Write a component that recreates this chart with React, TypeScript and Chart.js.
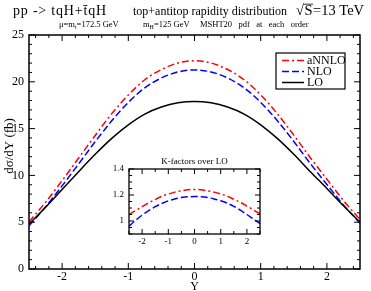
import React, { useEffect, useRef } from 'react';
import { Chart, registerables } from 'chart.js';

Chart.register(...registerables);

// ---------- data ----------
const rapidity = [-2.5, -2.25, -2, -1.75, -1.5, -1.25, -1, -0.75, -0.5, -0.25, 0, 0.25, 0.5, 0.75, 1, 1.25, 1.5, 1.75, 2, 2.25, 2.5];
const loValues = [4.8, 6.6, 8.5, 10.4, 12.25, 13.95, 15.4, 16.55, 17.3, 17.75, 17.9, 17.75, 17.3, 16.55, 15.4, 13.95, 12.25, 10.4, 8.6, 6.75, 5.0];
const nloValues = [4.61, 6.63, 8.88, 11.23, 13.6, 15.83, 17.79, 19.36, 20.41, 21.05, 21.27, 21.05, 20.41, 19.36, 17.8, 15.86, 13.63, 11.26, 9.03, 6.85, 4.9];
const annloValues = [5.04, 7.13, 9.44, 11.86, 14.27, 16.6, 18.59, 20.22, 21.31, 22.01, 22.25, 22.01, 21.31, 20.22, 18.6, 16.6, 14.3, 11.89, 9.59, 7.32, 5.28];
const kNloValues = [0.96, 1.005, 1.045, 1.08, 1.11, 1.135, 1.155, 1.17, 1.18, 1.186, 1.188, 1.186, 1.18, 1.17, 1.156, 1.137, 1.113, 1.083, 1.05, 1.015, 0.98];
const kAnnloValues = [1.05, 1.08, 1.11, 1.14, 1.165, 1.19, 1.207, 1.222, 1.232, 1.24, 1.243, 1.24, 1.232, 1.222, 1.208, 1.19, 1.167, 1.143, 1.115, 1.085, 1.055];

const mainXTicks = [-2, -1, 0, 1, 2];
const mainYTicks = [0, 5, 10, 15, 20, 25];
const insetXTicks = [-2, -1, 0, 1, 2];
const insetYTicks = [1, 1.2, 1.4];
const seriesNames = ['aNNLO', 'NLO', 'LO'];
const seriesColors = ['#ff0000', '#0000ff', '#000000'];
const seriesDashes: number[][] = [[7, 3, 2, 3], [7, 3], []];

const FONT = "'Liberation Serif', 'Times New Roman', serif";

type FrameCfg = {
  xMinor: number; xMajor: number; yMinor: number; yMajor: number;
  majorLen: number; minorLen: number; lw: number;
};

function tickValues(min: number, max: number, step: number) {
  const out: number[] = [];
  const start = Math.ceil(min / step - 1e-9);
  const end = Math.floor(max / step + 1e-9);
  for (let i = start; i <= end; i++) out.push(+(i * step).toFixed(6));
  return out;
}

function isMajor(v: number, major: number) {
  const r = v / major;
  return Math.abs(r - Math.round(r)) < 1e-6;
}

function framePlugin(cfg: FrameCfg) {
  return {
    id: 'frame',
    afterDraw(chart: any) {
      const { ctx, chartArea: a, scales } = chart;
      const xs = scales.x;
      const ys = scales.y;
      ctx.save();
      ctx.strokeStyle = '#000';
      ctx.lineWidth = 1;
      ctx.beginPath();
      for (const v of tickValues(xs.min, xs.max, cfg.xMinor)) {
        const p = xs.getPixelForValue(v);
        const len = isMajor(v, cfg.xMajor) ? cfg.majorLen : cfg.minorLen;
        ctx.moveTo(p, a.bottom); ctx.lineTo(p, a.bottom - len);
        ctx.moveTo(p, a.top); ctx.lineTo(p, a.top + len);
      }
      for (const v of tickValues(ys.min, ys.max, cfg.yMinor)) {
        const p = ys.getPixelForValue(v);
        const len = isMajor(v, cfg.yMajor) ? cfg.majorLen : cfg.minorLen;
        ctx.moveTo(a.left, p); ctx.lineTo(a.left + len, p);
        ctx.moveTo(a.right, p); ctx.lineTo(a.right - len, p);
      }
      ctx.stroke();
      ctx.lineWidth = cfg.lw;
      ctx.strokeRect(a.left, a.top, a.right - a.left, a.bottom - a.top);
      ctx.restore();
    },
  };
}

// sequential text runs, with optional subscripts
function drawRuns(ctx: any, parts: [string, boolean][], x: number, y: number, size: number) {
  let cx = x;
  for (const [t, sub] of parts) {
    ctx.font = `${sub ? size * 0.7 : size}px ${FONT}`;
    ctx.fillText(t, cx, sub ? y + size * 0.25 : y);
    cx += ctx.measureText(t).width;
  }
  return cx;
}

const mainDecor = {
  id: 'mainDecor',
  afterDraw(chart: any) {
    const { ctx, chartArea: a } = chart;
    ctx.save();
    ctx.fillStyle = '#000';
    ctx.strokeStyle = '#000';
    ctx.textAlign = 'left';
    ctx.textBaseline = 'alphabetic';
    // title
    ctx.font = `14px ${FONT}`;
    ctx.letterSpacing = '0.8px';
    ctx.fillText('pp -> tqH+t\u0304qH', 13, 15);
    ctx.letterSpacing = '0px';
    ctx.font = `12px ${FONT}`;
    ctx.fillText('top+antitop rapidity distribution', 133, 15);
    // sqrt(S) = 13 TeV with overline on S
    ctx.font = `14.5px ${FONT}`;
    let x0 = 296;
    ctx.fillText('\u221A', x0, 15);
    x0 += ctx.measureText('\u221A').width;
    const wS = ctx.measureText('S').width;
    ctx.fillText('S', x0 + 0.5, 15);
    ctx.lineWidth = 0.8;
    ctx.beginPath();
    ctx.moveTo(x0 - 0.5, 4.2);
    ctx.lineTo(x0 + wS + 1, 4.2);
    ctx.stroke();
    ctx.fillText('=13 TeV', x0 + wS + 1, 15);
    // subtitle
    drawRuns(ctx, [['\u03BC=m', false], ['t', true], ['=172.5 GeV', false]], 59, 27, 8.5);
    drawRuns(ctx, [['m', false], ['H', true], ['=125 GeV', false]], 143, 27, 8.5);
    drawRuns(ctx, [['MSHT20   pdf   at   each   order', false]], 200, 27, 8.5);
    // axis titles
    ctx.font = `12px ${FONT}`;
    ctx.textAlign = 'center';
    ctx.fillText('Y', (a.left + a.right) / 2, 290);
    ctx.save();
    ctx.translate(13, 146);
    ctx.rotate(-Math.PI / 2);
    ctx.font = `13px ${FONT}`;
    ctx.fillText('d\u03C3/dY (fb)', 0, 0);
    ctx.restore();
    // legend
    const bx = 276, by = 53, bw = 69, bh = 36;
    ctx.fillStyle = '#fff';
    ctx.fillRect(bx, by, bw, bh);
    ctx.lineWidth = 1.2;
    ctx.strokeRect(bx, by, bw, bh);
    ctx.textAlign = 'left';
    ctx.textBaseline = 'middle';
    ctx.font = `12px ${FONT}`;
    seriesNames.forEach((name, i) => {
      const y = by + 7.5 + i * 11;
      ctx.beginPath();
      ctx.setLineDash(seriesDashes[i]);
      ctx.strokeStyle = seriesColors[i];
      ctx.lineWidth = 1.5;
      ctx.moveTo(282, y);
      ctx.lineTo(304, y);
      ctx.stroke();
      ctx.setLineDash([]);
      ctx.fillStyle = '#000';
      ctx.fillText(name, 307, y + 0.5);
    });
    ctx.restore();
  },
};

const insetDecor = {
  id: 'insetDecor',
  afterDraw(chart: any) {
    const { ctx, chartArea: a } = chart;
    ctx.save();
    ctx.fillStyle = '#000';
    ctx.font = `9px ${FONT}`;
    ctx.textAlign = 'center';
    ctx.textBaseline = 'alphabetic';
    ctx.fillText('K-factors over LO', (a.left + a.right) / 2, 14);
    ctx.restore();
  },
};

function lineDataset(label: string, values: number[], idx: number) {
  return {
    label,
    data: rapidity.map((x, i) => ({ x, y: values[i] })),
    borderColor: seriesColors[idx],
    borderDash: seriesDashes[idx],
    borderWidth: 1.5,
    pointRadius: 0,
    fill: false,
    cubicInterpolationMode: 'monotone' as const,
  };
}

export default function App() {
  const mainRef = useRef<HTMLCanvasElement>(null);
  const insetRef = useRef<HTMLCanvasElement>(null);

  useEffect(() => {
    Chart.defaults.font.family = FONT;
    Chart.defaults.color = '#000';

    const main = new Chart(mainRef.current!, {
      type: 'line',
      data: {
        datasets: [
          lineDataset('LO', loValues, 2),
          lineDataset('NLO', nloValues, 1),
          lineDataset('aNNLO', annloValues, 0),
        ],
      },
      options: {
        responsive: false,
        animation: false,
        layout: { padding: { top: 35, right: 11, left: 0, bottom: 0 } },
        plugins: { legend: { display: false }, tooltip: { enabled: false }, title: { display: false } },
        scales: {
          x: {
            type: 'linear', min: -2.5, max: 2.5,
            grid: { display: false, drawTicks: false, tickLength: 0 },
            border: { display: false },
            ticks: { font: { size: 12 }, padding: 1, maxRotation: 0 },
            afterBuildTicks: (s: any) => { s.ticks = mainXTicks.map((v) => ({ value: v })); },
            afterFit: (s: any) => { s.height = 22; },
          },
          y: {
            type: 'linear', min: 0, max: 25,
            grid: { display: false, drawTicks: false, tickLength: 0 },
            border: { display: false },
            ticks: { font: { size: 12 }, padding: 5 },
            afterBuildTicks: (s: any) => { s.ticks = mainYTicks.map((v) => ({ value: v })); },
            afterFit: (s: any) => { s.width = 29; },
          },
        },
      },
      plugins: [framePlugin({ xMinor: 0.2, xMajor: 1, yMinor: 1, yMajor: 5, majorLen: 6, minorLen: 3, lw: 1.5 }), mainDecor],
    } as any);

    const inset = new Chart(insetRef.current!, {
      type: 'line',
      data: {
        datasets: [
          lineDataset('NLO', kNloValues, 1),
          lineDataset('aNNLO', kAnnloValues, 0),
        ],
      },
      options: {
        responsive: false,
        animation: false,
        layout: { padding: { top: 19, right: 10, left: 0, bottom: 0 } },
        plugins: { legend: { display: false }, tooltip: { enabled: false }, title: { display: false } },
        scales: {
          x: {
            type: 'linear', min: -2.5, max: 2.5,
            grid: { display: false, drawTicks: false, tickLength: 0 },
            border: { display: false },
            ticks: { font: { size: 9 }, padding: 2, maxRotation: 0 },
            afterBuildTicks: (s: any) => { s.ticks = insetXTicks.map((v) => ({ value: v })); },
            afterFit: (s: any) => { s.height = 16; },
          },
          y: {
            type: 'linear', min: 0.9, max: 1.4,
            grid: { display: false, drawTicks: false, tickLength: 0 },
            border: { display: false },
            ticks: { font: { size: 9 }, padding: 5, callback: (v: any) => String(+(+v).toFixed(1)) },
            afterBuildTicks: (s: any) => { s.ticks = insetYTicks.map((v) => ({ value: v })); },
            afterFit: (s: any) => { s.width = 29; },
          },
        },
      },
      plugins: [framePlugin({ xMinor: 0.5, xMajor: 1, yMinor: 0.05, yMajor: 0.2, majorLen: 5, minorLen: 3, lw: 1.3 }), insetDecor],
    } as any);

    return () => {
      main.destroy();
      inset.destroy();
    };
  }, []);

  return (
    <div style={{ position: 'fixed', left: 0, top: 0, width: 371, height: 291, background: '#fff' }}>
      <canvas ref={mainRef} width={371} height={291} style={{ position: 'absolute', left: 0, top: 0, width: 371, height: 291 }} />
      <canvas ref={insetRef} width={170} height={100} style={{ position: 'absolute', left: 100, top: 150, width: 170, height: 100 }} />
    </div>
  );
}
